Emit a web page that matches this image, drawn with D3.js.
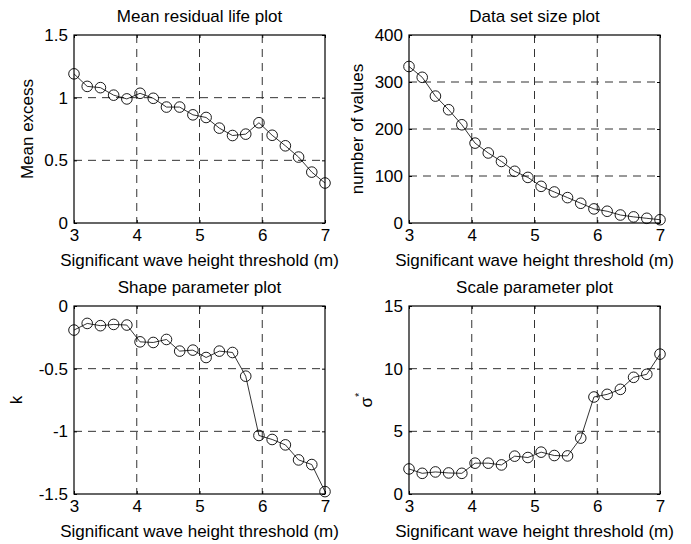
<!DOCTYPE html>
<html>
<head>
<meta charset="utf-8">
<script src="https://cdn.jsdelivr.net/npm/d3@7"></script>
<style>
  body { margin: 0; background: #fff; }
  text { font-family: "Liberation Sans", Arial, sans-serif; fill: #000; }
</style>
</head>
<body>
<div id="chart"></div>
<script>
// Data_____________________________________________
const thresholds = d3.range(20).map(i => 3 + i * 4 / 19);

const meanExcess = [1.19, 1.09, 1.08, 1.02, 0.99, 1.035, 0.995, 0.925, 0.925, 0.863,
    0.842, 0.757, 0.698, 0.709, 0.80, 0.70, 0.616, 0.526, 0.406, 0.319];
const dataSize = [333, 310, 270, 241, 209, 170, 149, 131, 110, 97,
    78, 66, 54, 42, 30, 25, 17, 13, 10, 7];
const shapeK = [-0.192, -0.139, -0.157, -0.147, -0.152, -0.286, -0.291, -0.267, -0.36, -0.352,
    -0.411, -0.36, -0.371, -0.56, -1.033, -1.065, -1.108, -1.228, -1.265, -1.481];
const scaleSigma = [2.0, 1.65, 1.76, 1.68, 1.65, 2.46, 2.46, 2.32, 3.02, 2.91,
    3.34, 3.07, 3.04, 4.46, 7.74, 7.95, 8.35, 9.31, 9.55, 11.16];

const xTicks = [3, 4, 5, 6, 7];
const xLabel = 'Significant wave height threshold (m)';
const titles = ['Mean residual life plot', 'Data set size plot', 'Shape parameter plot', 'Scale parameter plot'];
const yLabels = ['Mean excess', 'number of values', 'k', 'sigma'];
const yDomains = [[0, 1.5], [0, 400], [-1.5, 0], [0, 15]];
const yTicks = [[0, 0.5, 1, 1.5], [0, 100, 200, 300, 400], [-1.5, -1, -0.5, 0], [0, 5, 10, 15]];
const series = [meanExcess, dataSize, shapeK, scaleSigma];

// Layout___________________________________________
const layout = [
    {left: 74, top: 35, ylabelX: -41},
    {left: 409, top: 35, ylabelX: -46},
    {left: 74, top: 306, ylabelX: -52},
    {left: 409, top: 306, ylabelX: -37}
];

let plotWidth = 251;
let plotHeight = 188;
const fontSize = '17px';

// plain hyphen for negative numbers, like the original
const fmt = d3.formatLocale({decimal: '.', thousands: ',', grouping: [3], currency: ['', ''], minus: '-'}).format('~g');

const svg = d3.select('#chart')
    .append('svg')
    .attr('width', 691)
    .attr('height', 544);

series.forEach((values, k) => {
    const p = layout[k];
    const g = svg.append('g')
        .attr('transform', `translate(${p.left},${p.top})`);

    const xScale = d3.scaleLinear().domain([3, 7]).range([0, plotWidth]);
    const yScale = d3.scaleLinear().domain(yDomains[k]).range([plotHeight, 0]);

    // grid
    g.selectAll('.vgrid')
        .data(xTicks.slice(1, -1))
        .enter()
        .append('line')
        .attr('x1', d => xScale(d)).attr('x2', d => xScale(d))
        .attr('y1', 0).attr('y2', plotHeight)
        .attr('stroke', '#333').attr('stroke-width', 1)
        .attr('stroke-dasharray', '8,6');
    g.selectAll('.hgrid')
        .data(yTicks[k].slice(1, -1))
        .enter()
        .append('line')
        .attr('y1', d => yScale(d)).attr('y2', d => yScale(d))
        .attr('x1', 0).attr('x2', plotWidth)
        .attr('stroke', '#333').attr('stroke-width', 1)
        .attr('stroke-dasharray', '8,6');

    // axes (inward ticks on all four sides)
    g.append('g')
        .attr('transform', `translate(0,${plotHeight})`)
        .call(d3.axisBottom(xScale).tickValues(xTicks).tickSizeInner(-3).tickSizeOuter(0).tickPadding(6).tickFormat(fmt))
        .call(a => a.select('.domain').remove())
        .call(a => a.selectAll('text').style('font-size', fontSize).attr('fill', '#000'));
    g.append('g')
        .call(d3.axisLeft(yScale).tickValues(yTicks[k]).tickSizeInner(-3).tickSizeOuter(0).tickPadding(6).tickFormat(fmt))
        .call(a => a.select('.domain').remove())
        .call(a => a.selectAll('text').style('font-size', fontSize).attr('fill', '#000'));
    g.append('g')
        .call(d3.axisTop(xScale).tickValues(xTicks).tickSizeInner(-3).tickSizeOuter(0).tickFormat(''))
        .call(a => a.select('.domain').remove());
    g.append('g')
        .attr('transform', `translate(${plotWidth},0)`)
        .call(d3.axisRight(yScale).tickValues(yTicks[k]).tickSizeInner(-3).tickSizeOuter(0).tickFormat(''))
        .call(a => a.select('.domain').remove());

    // box
    g.append('rect')
        .attr('width', plotWidth).attr('height', plotHeight)
        .attr('fill', 'none').attr('stroke', '#000').attr('stroke-width', 1.2);

    // line + markers
    const line = d3.line()
        .x((d, i) => xScale(thresholds[i]))
        .y(d => yScale(d));
    g.append('path')
        .datum(values)
        .attr('d', line)
        .attr('fill', 'none').attr('stroke', '#000').attr('stroke-width', 0.8);
    g.selectAll('circle')
        .data(values)
        .enter()
        .append('circle')
        .attr('cx', (d, i) => xScale(thresholds[i]))
        .attr('cy', d => yScale(d))
        .attr('r', 5.3)
        .attr('fill', 'none').attr('stroke', '#000').attr('stroke-width', 0.9);

    // labels
    g.append('text')
        .attr('x', plotWidth / 2).attr('y', -13)
        .style('text-anchor', 'middle').style('font-size', fontSize)
        .text(titles[k]);
    g.append('text')
        .attr('x', plotWidth / 2).attr('y', plotHeight + 43)
        .style('text-anchor', 'middle').style('font-size', fontSize)
        .text(xLabel);

    const yl = g.append('text')
        .attr('transform', `translate(${p.ylabelX},${plotHeight / 2}) rotate(-90)`)
        .style('text-anchor', 'middle').style('font-size', fontSize);
    if (yLabels[k] === 'sigma') {
        yl.append('tspan').text('\u03c3');
        yl.append('tspan').attr('dy', -9).style('font-size', '11px').text('*');
    } else {
        yl.text(yLabels[k]);
    }
});
</script>
</body>
</html>
